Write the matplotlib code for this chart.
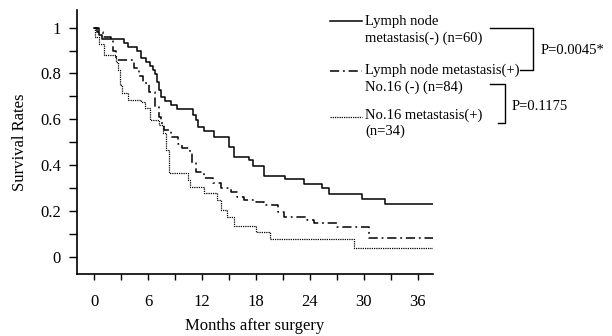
import matplotlib
matplotlib.use("Agg")
import matplotlib.pyplot as plt
from matplotlib.lines import Line2D
from matplotlib.ticker import MultipleLocator, FixedLocator, FuncFormatter

plt.rcParams['font.family'] = ['Liberation Serif', 'DejaVu Serif']

# Kaplan-Meier step data (months, survival)
neg_t = [0, 0.3, 0.5, 0.8, 3.3, 3.8, 4.8, 5.2, 5.7, 6.2, 6.5, 6.8, 7.0, 7.2, 7.4, 7.9, 8.5, 9.2,
         11.0, 11.3, 11.5, 12.2, 13.3, 15.0, 15.5, 17.2, 17.7, 18.9, 21.2, 23.3, 25.3, 26.1, 29.8, 32.4, 37.7]
neg_s = [1.0, 0.983, 0.967, 0.95, 0.932, 0.917, 0.90, 0.866, 0.85, 0.833, 0.815, 0.798, 0.764, 0.728, 0.699,
         0.68, 0.661, 0.644, 0.619, 0.597, 0.568, 0.55, 0.521, 0.48, 0.437, 0.422, 0.397, 0.354, 0.339,
         0.316, 0.299, 0.274, 0.251, 0.229, 0.229]

no16neg_t = [0, 0.5, 1.0, 1.8, 2.1, 2.4, 4.4, 5.0, 5.4, 6.1, 6.8, 7.15, 7.4, 7.8, 8.5, 9.3, 9.8, 10.6,
             10.9, 11.3, 12.2, 13.2, 14.1, 15.2, 15.9, 16.7, 18.0, 18.9, 20.4, 21.1, 23.7, 24.4, 27.0, 30.6, 37.7]
no16neg_s = [1.0, 0.98, 0.96, 0.94, 0.90, 0.857, 0.823, 0.79, 0.757, 0.72, 0.655, 0.611, 0.582, 0.553,
             0.524, 0.492, 0.473, 0.451, 0.408, 0.371, 0.342, 0.32, 0.299, 0.284, 0.262, 0.248, 0.24,
             0.226, 0.197, 0.172, 0.160, 0.148, 0.131, 0.080, 0.080]

no16pos_t = [0, 0.1, 0.56, 1.04, 2.4, 2.6, 2.9, 3.1, 3.7, 5.2, 5.6, 6.2, 7.2, 7.6, 7.97, 8.3, 10.4, 10.6,
             12.2, 13.7, 14.1, 14.8, 15.5, 18.0, 19.6, 28.9, 37.7]
no16pos_s = [1.0, 0.96, 0.93, 0.881, 0.852, 0.815, 0.75, 0.714, 0.684, 0.677, 0.648, 0.597, 0.575, 0.539,
             0.466, 0.367, 0.336, 0.306, 0.277, 0.248, 0.204, 0.175, 0.134, 0.109, 0.076, 0.037, 0.037]

x_ticks = [0, 6, 12, 18, 24, 30, 36]
y_ticks = [0, 0.2, 0.4, 0.6, 0.8, 1.0]

W, H = 612, 336
fig = plt.figure(figsize=(W / 100, H / 100), dpi=100)
ax = fig.add_axes([77 / W, 1 - 274 / H, (433 - 77) / W, (274 - 10) / H])

ax.step(neg_t, neg_s, where='post', color='black', lw=1.1)
l2, = ax.step(no16neg_t, no16neg_s, where='post', color='black', lw=1.1)
l2.set_dashes((6, 2.5, 1.2, 2.5))
l3, = ax.step(no16pos_t, no16pos_s, where='post', color='black', lw=0.9)
l3.set_dashes((1, 0.8))

ax.set_xlim(-1.93, 37.7)
ax.set_ylim(-0.0755, 1.077)
for s in ['top', 'right']:
    ax.spines[s].set_visible(False)
for s in ['left', 'bottom']:
    ax.spines[s].set_linewidth(1.2)

ax.xaxis.set_major_locator(FixedLocator(x_ticks))
ax.xaxis.set_minor_locator(MultipleLocator(3))
ax.yaxis.set_major_locator(FixedLocator(y_ticks))
ax.yaxis.set_minor_locator(MultipleLocator(0.1))
ax.yaxis.set_major_formatter(FuncFormatter(lambda v, p: '0' if v == 0 else ('1' if v == 1 else f'{v:.1f}')))
ax.tick_params(axis='both', which='both', direction='out', width=1.0, labelsize=12, color='black')
ax.tick_params(axis='y', which='both', length=5.5, pad=6)
ax.tick_params(axis='x', which='both', length=4.5, pad=10)

ax.set_xlabel('Months after surgery', fontsize=12, labelpad=6)
ax.set_ylabel('Survival Rates', fontsize=12, labelpad=9)

def fx(x):
    return x / W

def fy(y):
    return 1 - y / H

# legend samples
s1 = Line2D([fx(330), fx(362)], [fy(20.7), fy(20.7)], transform=fig.transFigure, color='black', lw=1.1)
s2 = Line2D([fx(330), fx(362)], [fy(70.7), fy(70.7)], transform=fig.transFigure, color='black', lw=1.1)
s2.set_dashes((6, 2.5, 1.2, 2.5))
s3 = Line2D([fx(330), fx(362)], [fy(116.7), fy(116.7)], transform=fig.transFigure, color='black', lw=0.9)
s3.set_dashes((1, 0.8))
for ln in (s1, s2, s3):
    fig.add_artist(ln)

texts = [("Lymph node", 21.7), ("metastasis(-) (n=60)", 38.3), ("Lymph node metastasis(+)", 70.7),
         ("No.16 (-) (n=84)", 87.3), ("No.16 metastasis(+)", 115), ("(n=34)", 131)]
for t, y in texts:
    fig.text(fx(365), fy(y), t, fontsize=10.5, va='center', ha='left')

# brackets
b1 = Line2D([fx(490), fx(533.3), fx(533.3), fx(520)], [fy(28.3), fy(28.3), fy(70), fy(70)],
            transform=fig.transFigure, color='black', lw=1.0)
b2 = Line2D([fx(490), fx(505), fx(505), fx(498.3)], [fy(84), fy(84), fy(123.3), fy(123.3)],
            transform=fig.transFigure, color='black', lw=1.0)
fig.add_artist(b1)
fig.add_artist(b2)
fig.text(fx(541), fy(50.7), "P=0.0045*", fontsize=10.5, va='center', ha='left')
fig.text(fx(512), fy(106.7), "P=0.1175", fontsize=10.5, va='center', ha='left')

fig.savefig('out.png', dpi=100)
